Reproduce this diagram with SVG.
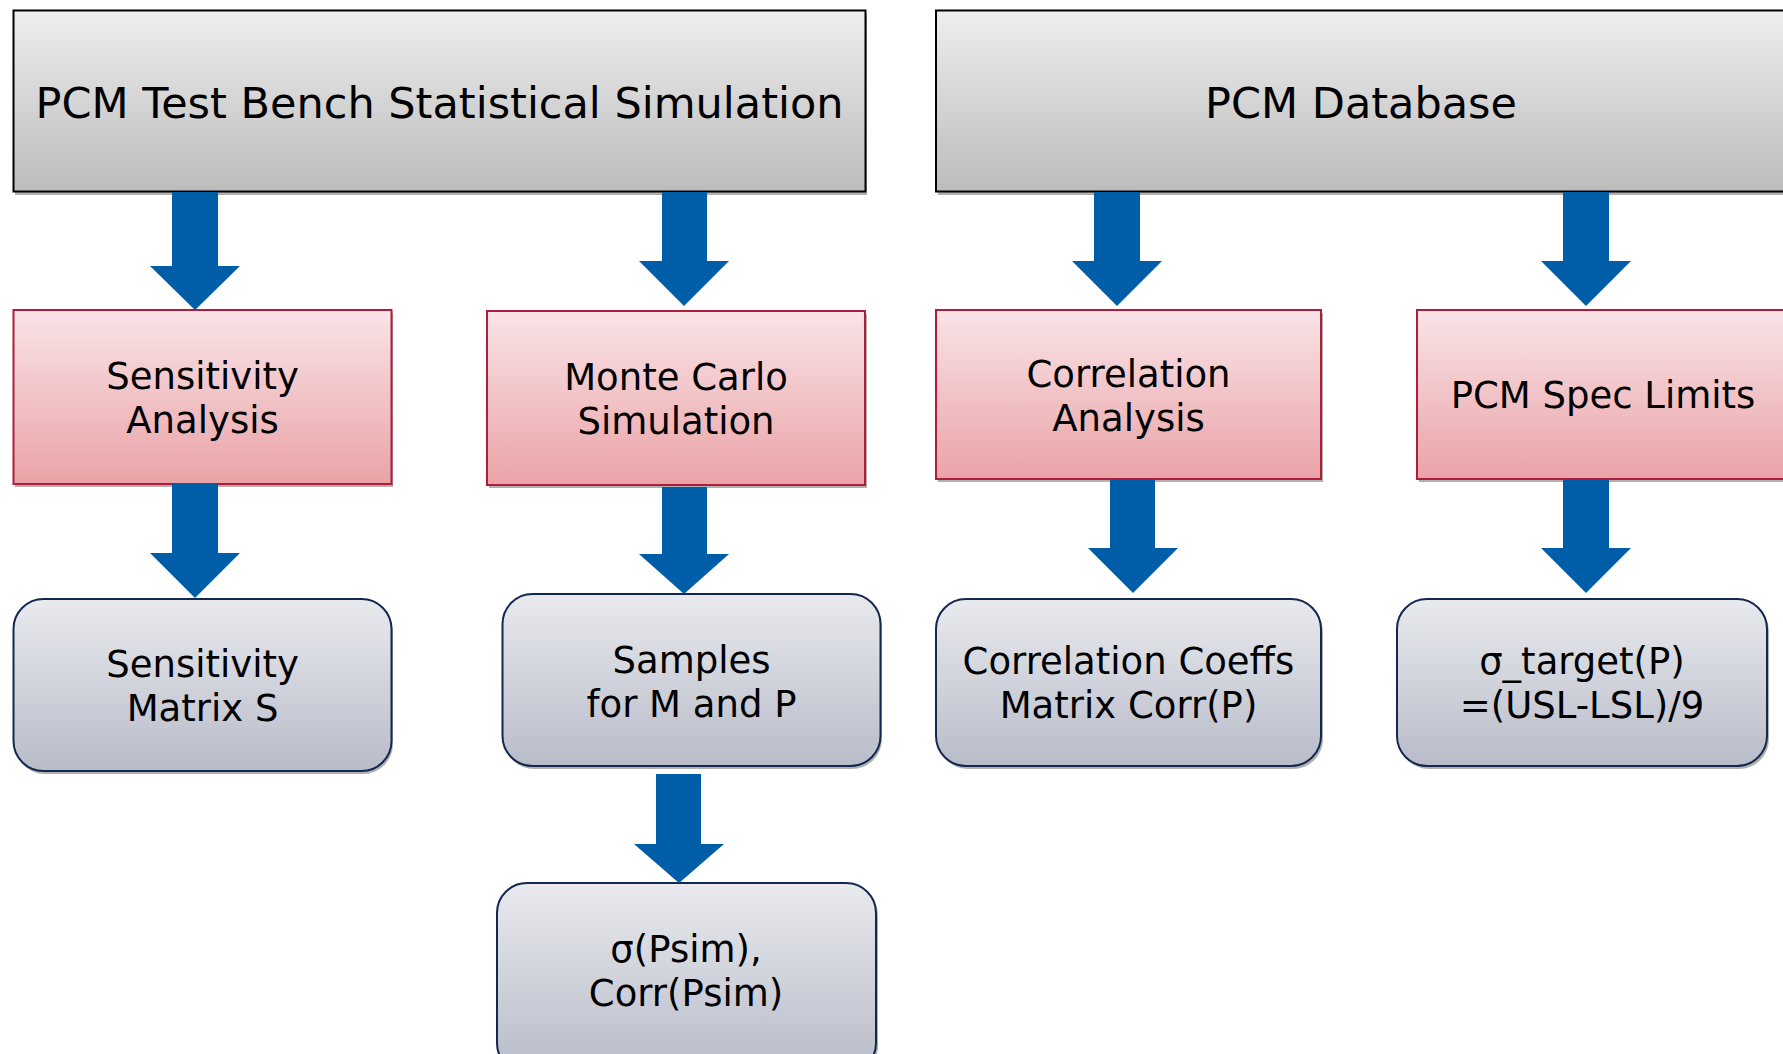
<svg xmlns="http://www.w3.org/2000/svg" width="1783" height="1054" viewBox="0 0 1783 1054">
<defs>
<linearGradient id="gGray" x1="0" y1="0" x2="0" y2="1"><stop offset="0" stop-color="#eeeeee"/><stop offset="1" stop-color="#bcbcbc"/></linearGradient>
<linearGradient id="gPink" x1="0" y1="0" x2="0" y2="1"><stop offset="0" stop-color="#f9e4e7"/><stop offset="1" stop-color="#eaa3a7"/></linearGradient>
<linearGradient id="gBlue" x1="0" y1="0" x2="0" y2="1"><stop offset="0" stop-color="#e9eaee"/><stop offset="1" stop-color="#b8bcc9"/></linearGradient>
</defs>
<style>
.shadow{fill:#8f8f8f;opacity:0.7}
.top{fill:url(#gGray);stroke:#000;stroke-width:2}
.pink{fill:url(#gPink);stroke:#b01c3c;stroke-width:2}
.blue{fill:url(#gBlue);stroke:#13284f;stroke-width:2}
.arrow{fill:#005da8}
text{font-family:"DejaVu Sans",Verdana,sans-serif;fill:#000;text-anchor:middle}
.big{font-size:43px}
.mid{font-size:37px}
</style>
<rect width="1783" height="1054" fill="#fff"/>

<g id="node-testbench">
<rect class="shadow" x="15" y="14" width="852" height="181"/>
<rect class="top" x="13.5" y="10.5" width="852" height="181"/>
<text class="big" x="439.5" y="118">PCM Test Bench Statistical Simulation</text>
</g>
<g id="node-database">
<rect class="shadow" x="938" y="14" width="860" height="181"/>
<rect class="top" x="936" y="10.5" width="860" height="181"/>
<text class="big" x="1361" y="118">PCM Database</text>
</g>

<g id="node-sensitivity-analysis">
<rect class="shadow" x="15" y="313" width="378" height="174"/>
<rect class="pink" x="13.5" y="310" width="378" height="174"/>
<text class="mid" x="202.5" y="389">Sensitivity</text>
<text class="mid" x="202.5" y="433">Analysis</text>
</g>
<g id="node-monte-carlo">
<rect class="shadow" x="489" y="314" width="378" height="174"/>
<rect class="pink" x="487" y="311" width="378" height="174"/>
<text class="mid" x="676" y="390">Monte Carlo</text>
<text class="mid" x="676" y="434">Simulation</text>
</g>
<g id="node-correlation-analysis">
<rect class="shadow" x="938" y="313" width="385" height="169"/>
<rect class="pink" x="936" y="310" width="385" height="169"/>
<text class="mid" x="1128.5" y="387">Correlation</text>
<text class="mid" x="1128.5" y="431">Analysis</text>
</g>
<g id="node-spec-limits">
<rect class="shadow" x="1419" y="313" width="372" height="169"/>
<rect class="pink" x="1417" y="310" width="372" height="169"/>
<text class="mid" x="1603" y="408">PCM Spec Limits</text>
</g>

<g id="node-sensitivity-matrix">
<rect class="shadow" x="15" y="602" width="378" height="172" rx="30"/>
<rect class="blue" x="13.5" y="599" width="378" height="172" rx="30"/>
<text class="mid" x="202.5" y="677">Sensitivity</text>
<text class="mid" x="202.5" y="721">Matrix S</text>
</g>
<g id="node-samples">
<rect class="shadow" x="504" y="597" width="378" height="172" rx="30"/>
<rect class="blue" x="502.5" y="594" width="378" height="172" rx="30"/>
<text class="mid" x="691.5" y="673">Samples</text>
<text class="mid" x="691.5" y="717">for M and P</text>
</g>
<g id="node-corr-coeffs">
<rect class="shadow" x="938" y="602" width="385" height="167" rx="30"/>
<rect class="blue" x="936" y="599" width="385" height="167" rx="30"/>
<text class="mid" x="1128.5" y="674">Correlation Coeffs</text>
<text class="mid" x="1128.5" y="718">Matrix Corr(P)</text>
</g>
<g id="node-sigma-target">
<rect class="shadow" x="1399" y="602" width="370" height="167" rx="30"/>
<rect class="blue" x="1397" y="599" width="370" height="167" rx="30"/>
<text class="mid" x="1582" y="674">σ_target(P)</text>
<text class="mid" x="1582" y="718">=(USL-LSL)/9</text>
</g>
<g id="node-sigma-psim">
<rect class="shadow" x="499" y="886" width="379" height="190" rx="30"/>
<rect class="blue" x="497" y="883" width="379" height="190" rx="30"/>
<text class="mid" x="686" y="962">σ(Psim),</text>
<text class="mid" x="686" y="1006">Corr(Psim)</text>
</g>

<g id="connectors">
<polygon class="arrow" points="172,192 218,192 218,266 240,266 195,310 150,266 172,266"/>
<polygon class="arrow" points="662,192 707,192 707,261 729,261 684,306 639,261 662,261"/>
<polygon class="arrow" points="1094,192 1140,192 1140,261 1162,261 1117,306 1072,261 1094,261"/>
<polygon class="arrow" points="1563,192 1609,192 1609,261 1631,261 1586,306 1541,261 1563,261"/>
<polygon class="arrow" points="172,484 218,484 218,553 240,553 195,598 150,553 172,553"/>
<polygon class="arrow" points="662,487 707,487 707,554 729,554 684,594 639,554 662,554"/>
<polygon class="arrow" points="1110,479 1155,479 1155,548 1178,548 1133,593 1088,548 1110,548"/>
<polygon class="arrow" points="1563,479 1609,479 1609,548 1631,548 1586,593 1541,548 1563,548"/>
<polygon class="arrow" points="656,774 701,774 701,844 724,844 679,883 634,844 656,844"/>
</g>
</svg>
